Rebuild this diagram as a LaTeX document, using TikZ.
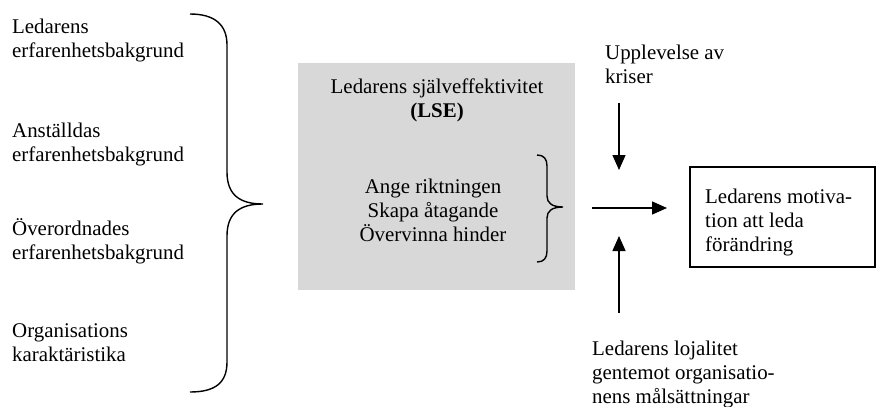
\documentclass[tikz,border=0pt]{standalone}
\usepackage{fontspec}
\setmainfont{Liberation Serif}
\usetikzlibrary{arrows.meta}
\definecolor{boxgray}{RGB}{216,216,216}
\begin{document}
\begin{tikzpicture}[x=1pt,y=-1pt,
  txt/.style={inner sep=0pt, font=\fontsize{20.9}{24}\selectfont},
  lefttxt/.style={txt, anchor=north west, align=left},
  centtxt/.style={txt, anchor=north, align=center},
  brace/.style={line width=1.4pt},
  flow/.style={line width=1.4pt, -{Triangle[length=15pt,width=13pt]}}]
\useasboundingbox (0,0) rectangle (876,407);

% factors on the left
\node[lefttxt] (f1) at (12,16.2) {\strut Ledarens\\erfarenhetsbakgrund};
\node[lefttxt] (f2) at (12,120.2) {\strut Anställdas\\erfarenhetsbakgrund};
\node[lefttxt] (f3) at (12,218.2) {\strut Överordnades\\erfarenhetsbakgrund};
\node[lefttxt] (f4) at (12,320.2) {\strut Organisations\\karaktäristika};

% large brace gathering the factors
\coordinate (bigtip) at (263,204);
\draw[brace] (190,14) .. controls (215,14) and (227,25) .. (227,45)
  -- (227,172) .. controls (227,195) and (240,204) .. (bigtip)
  .. controls (240,204) and (227,213) .. (227,236)
  -- (227,362) .. controls (227,383) and (215,392) .. (190,392);

% self-efficacy box
\node[fill=boxgray, minimum width=277pt, minimum height=227pt, inner sep=0pt] (lse) at (436.5,176.5) {};
\node[centtxt] (lsetitle) at (437,76.2) {\strut Ledarens själveffektivitet\\\textbf{(LSE)}};
\node[centtxt] (tasks) at (433,176.2) {\strut Ange riktningen\\Skapa åtagande\\Övervinna hinder};

% small brace round the tasks
\coordinate (smalltip) at (563,207);
\draw[brace] (537,155) .. controls (544,155) and (547,159) .. (547,166)
  -- (547,196) .. controls (547,203) and (552,207) .. (smalltip)
  .. controls (552,207) and (547,211) .. (547,218)
  -- (547,251) .. controls (547,258) and (544,262) .. (537,262);

% arrows into the outcome
\coordinate (hstart) at (592,208);
\coordinate (hend) at (667,208);
\coordinate (dstart) at (619,103);
\coordinate (dend) at (619,170);
\coordinate (ustart) at (619,313);
\coordinate (uend) at (619,236);
\draw[flow] (hstart) -- (hend);
\draw[flow] (dstart) -- (dend);
\draw[flow] (ustart) -- (uend);

\node[lefttxt] (crisis) at (605,42.2) {\strut Upplevelse av\\kriser};
\node[lefttxt] (loyal) at (592,338.2) {\strut Ledarens lojalitet\\gentemot organisatio-\\nens målsättningar};

% outcome box
\node[draw, line width=1.5pt, minimum width=185pt, minimum height=100pt, inner sep=0pt] (motbox) at (782.5,217) {};
\node[lefttxt] (mottext) at (705,186.2) {\strut Ledarens motiva-\\tion att leda\\förändring};
\end{tikzpicture}
\end{document}
